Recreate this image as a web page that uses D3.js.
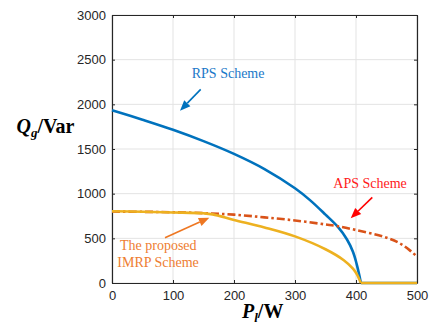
<!DOCTYPE html>
<html>
<head>
<meta charset="utf-8">
<script src="https://cdn.jsdelivr.net/npm/d3@7"></script>
<style>
  html, body { margin: 0; padding: 0; background: #fff; }
  svg { display: block; }
</style>
</head>
<body>
<svg id="chart" width="429" height="324"></svg>
<script>
// Load power P_l (W) vs. reactive power Q_g (Var) for three schemes
const rpsP  = [0, 50, 100, 150, 200, 250, 300, 325, 350, 370, 385, 395, 401, 405, 408, 450, 500];
const rpsQ  = [1935, 1828, 1715, 1588, 1445, 1275, 1060, 925, 765, 630, 490, 350, 215, 100, 0, 0, 0];

const apsP  = [0, 50, 100, 150, 200, 250, 300, 350, 368, 400, 445, 472, 491, 500];
const apsQ  = [800, 797, 792, 782, 765, 735, 700, 655, 638, 593, 518, 444, 350, 295];

const imrpP = [0, 50, 100, 150, 165, 200, 250, 300, 350, 380, 395, 402, 406, 408, 450, 500];
const imrpQ = [803, 798, 790, 780, 768, 706, 622, 522, 378, 255, 160, 90, 30, 0, 0, 0];

const xTicks = [0, 100, 200, 300, 400, 500];
const yTicks = [0, 500, 1000, 1500, 2000, 2500, 3000];

const margin = { left: 112, top: 15, right: 12, bottom: 41 };
const W = 429, H = 324;
const iw = W - margin.left - margin.right;
const ih = H - margin.top - margin.bottom;

const svg = d3.select("#chart");
const g = svg.append("g").attr("transform", `translate(${margin.left},${margin.top})`);

const x = d3.scaleLinear().domain([0, 500]).range([0, iw]);
const y = d3.scaleLinear().domain([0, 3000]).range([ih, 0]);

// grid
g.append("g").selectAll("line").data(xTicks).join("line")
  .attr("x1", d => x(d)).attr("x2", d => x(d)).attr("y1", 0).attr("y2", ih)
  .attr("stroke", "#e3e3e3").attr("stroke-width", 1);
g.append("g").selectAll("line").data(yTicks).join("line")
  .attr("y1", d => y(d)).attr("y2", d => y(d)).attr("x1", 0).attr("x2", iw)
  .attr("stroke", "#e3e3e3").attr("stroke-width", 1);

// axes (ticks pointing inward, box on all sides)
const axisColor = "#262626";
const tickFont = "'Liberation Sans', Arial, sans-serif";
const fmt = d3.format("d");
function styleAxis(sel) {
  sel.select(".domain").attr("stroke", axisColor).attr("stroke-width", 1.2);
  sel.selectAll(".tick line").attr("stroke", axisColor).attr("stroke-width", 1);
  sel.selectAll(".tick text").attr("fill", axisColor)
    .style("font-family", tickFont).style("font-size", "13px");
}
g.append("g").attr("transform", `translate(0,${ih})`)
  .call(d3.axisBottom(x).tickValues(xTicks).tickFormat(fmt).tickSizeInner(-3).tickSizeOuter(0).tickPadding(8))
  .call(styleAxis);
g.append("g")
  .call(d3.axisLeft(y).tickValues(yTicks).tickFormat(fmt).tickSizeInner(-3).tickSizeOuter(0).tickPadding(6))
  .call(styleAxis);
g.append("g")
  .call(d3.axisTop(x).tickValues(xTicks).tickSizeInner(-3).tickSizeOuter(0).tickFormat(""))
  .call(styleAxis);
g.append("g").attr("transform", `translate(${iw},0)`)
  .call(d3.axisRight(y).tickValues(yTicks).tickSizeInner(-3).tickSizeOuter(0).tickFormat(""))
  .call(styleAxis);

// curves: smooth part until the curve meets zero, straight line along zero after
const zip = (a, b) => a.map((v, i) => [v, b[i]]);
const smooth = d3.line().x(d => x(d[0])).y(d => y(d[1])).curve(d3.curveCatmullRom.alpha(0.5));
const straight = d3.line().x(d => x(d[0])).y(d => y(d[1]));

function drawSeries(P, Q, color, dash) {
  const pts = zip(P, Q);
  const zi = Q.indexOf(0);
  const curved = zi < 0 ? pts : pts.slice(0, zi + 1);
  const flat = zi < 0 ? [] : pts.slice(zi);
  const grp = g.append("g").attr("fill", "none").attr("stroke", color).attr("stroke-width", 2.6);
  const p1 = grp.append("path").attr("d", smooth(curved));
  if (dash) p1.attr("stroke-dasharray", dash);
  if (flat.length > 1) grp.append("path").attr("d", straight(flat));
}

drawSeries(rpsP, rpsQ, "#0072BD");
drawSeries(apsP, apsQ, "#D95319", "8,3,2.5,3");
drawSeries(imrpP, imrpQ, "#EDB120");

// annotations: arrows and labels (in data units)
const serif = "'Liberation Serif', 'Times New Roman', serif";
function arrow(p0, p1, color) {
  const x0 = x(p0[0]), y0 = y(p0[1]), x1 = x(p1[0]), y1 = y(p1[1]);
  const ang = Math.atan2(y1 - y0, x1 - x0);
  const L = 10.5, Wd = 4.3;
  const bx = x1 - L * Math.cos(ang), by = y1 - L * Math.sin(ang);
  g.append("line").attr("x1", x0).attr("y1", y0).attr("x2", bx).attr("y2", by)
    .attr("stroke", color).attr("stroke-width", 1.6);
  const pts = [
    [x1, y1],
    [bx + Wd * Math.sin(ang), by - Wd * Math.cos(ang)],
    [bx - Wd * Math.sin(ang), by + Wd * Math.cos(ang)]
  ];
  g.append("polygon").attr("points", pts.map(p => p.join(",")).join(" ")).attr("fill", color);
}
function label(txt, p, color) {
  g.append("text").attr("x", x(p[0])).attr("y", y(p[1]))
    .attr("fill", color).style("font-family", serif).style("font-size", "14px").text(txt);
}

arrow([145.4, 2168], [111.5, 1929], "#0072BD");
label("RPS Scheme", [130.7, 2295], "#1a78c8");

arrow([426.7, 959], [391.3, 724], "#FF0000");
label("APS Scheme", [362.8, 1063], "#FF1a1a");

arrow([86.9, 507], [159.5, 731], "#EE7722");
label("The proposed", [13.1, 369], "#EE7D31");
label("IMRP Scheme", [8.7, 182], "#EE7D31");

// axis titles
const yt = svg.append("text").attr("x", 16.5).attr("y", 133)
  .style("font-family", serif).style("font-size", "20px").style("font-weight", "bold").attr("fill", "#000");
yt.append("tspan").style("font-style", "italic").text("Q");
yt.append("tspan").style("font-style", "italic").style("font-size", "13px").attr("dy", 4).text("g");
yt.append("tspan").attr("dy", -4).text("/Var");

const xt = svg.append("text").attr("x", 242).attr("y", 318)
  .style("font-family", serif).style("font-size", "20px").style("font-weight", "bold").attr("fill", "#000");
xt.append("tspan").style("font-style", "italic").text("P");
xt.append("tspan").style("font-style", "italic").style("font-size", "13px").attr("dy", 4).text("l");
xt.append("tspan").attr("dy", -4).text("/W");
</script>
</body>
</html>
